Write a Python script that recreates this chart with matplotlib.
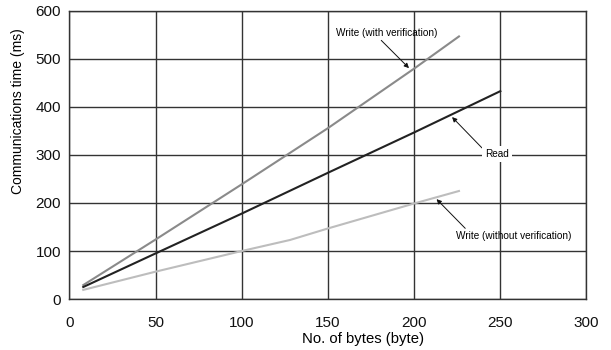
import matplotlib
matplotlib.use("Agg")
import matplotlib.pyplot as plt

plt.rcParams['font.family'] = ['Liberation Sans', 'DejaVu Sans']

x_with = [8, 50, 100, 150, 200, 226]
y_with = [29, 124, 239, 356, 480, 547]
x_read = [8, 50, 100, 150, 200, 250]
y_read = [25, 95, 178, 263, 347, 433]
x_without = [8, 50, 100, 128, 150, 200, 226]
y_without = [19, 57, 100, 123, 147, 199, 225]

xticks = [0, 50, 100, 150, 200, 250, 300]
yticks = [0, 100, 200, 300, 400, 500, 600]

fig = plt.figure(figsize=(6.11, 3.5), dpi=100)
ax = fig.add_axes([0.1137, 0.1457, 0.8462, 0.8229])

ax.plot(x_with, y_with, color='#8a8a8a', lw=1.5, zorder=3)
ax.plot(x_read, y_read, color='#222222', lw=1.5, zorder=3)
ax.plot(x_without, y_without, color='#bdbdbd', lw=1.5, zorder=3)

ax.set_xlim(0, 300)
ax.set_ylim(0, 600)
ax.set_xticks(xticks)
ax.set_yticks(yticks)
ax.grid(True, color='#333333', lw=1.0, zorder=1)
ax.set_axisbelow(True)
ax.tick_params(length=0, labelsize=11, colors='#111111')
ax.tick_params(axis='x', pad=12)
ax.tick_params(axis='y', pad=6)
for s in ax.spines.values():
    s.set_color('#333333')
    s.set_linewidth(1.0)

ax.set_xlabel('No. of bytes (byte)', fontsize=10.7, va='top', ha='center')
ax.xaxis.set_label_coords(0.567, -0.113)
ax.set_ylabel('Communications time (ms)', fontsize=10, va='center', ha='center')
ax.yaxis.set_label_coords(-0.099, 0.653)

arrow = dict(arrowstyle='-|>', color='#111111', lw=0.7, mutation_scale=7, shrinkA=0, shrinkB=0)
ax.annotate('Write (with verification)', xy=(197, 481), xytext=(184, 555),
            fontsize=7.2, ha='center', va='center', arrowprops=dict(arrow, relpos=(0.42, 0.0)), zorder=4)
ax.annotate('Read', xy=(222, 379), xytext=(248, 302),
            fontsize=7.2, ha='center', va='center',
            bbox=dict(boxstyle='square,pad=0.3', fc='white', ec='none'),
            arrowprops=dict(arrow, relpos=(0.0, 0.8)), zorder=4)
ax.annotate('Write (without verification)', xy=(213, 208), xytext=(258, 131),
            fontsize=7.2, ha='center', va='center', arrowprops=dict(arrow, relpos=(0.1, 1.0)), zorder=4)

fig.savefig('out.png', dpi=100)
